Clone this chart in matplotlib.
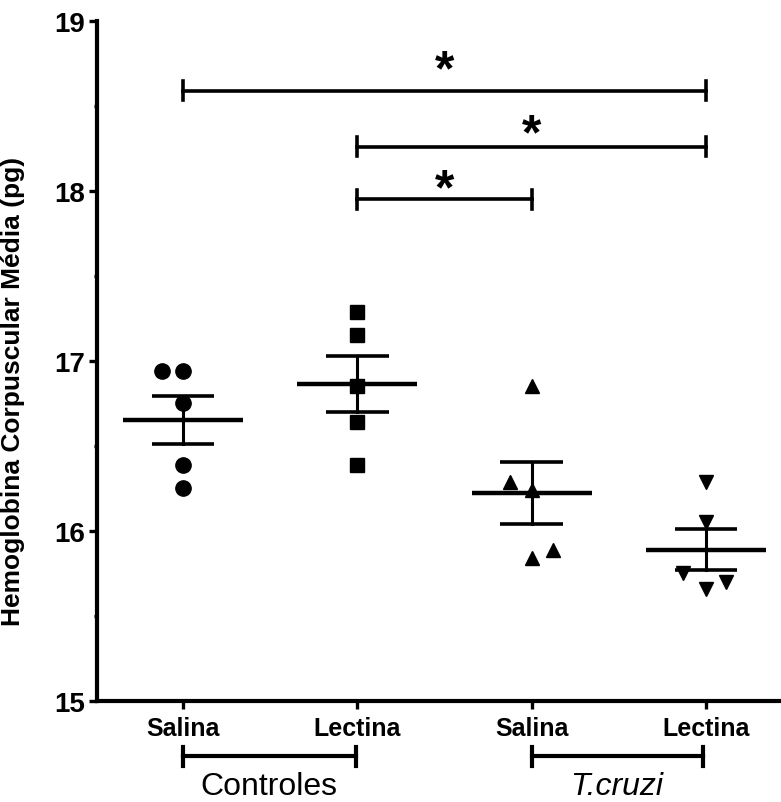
import matplotlib.pyplot as plt
import numpy as np

plt.rcParams["font.family"] = ["Liberation Sans", "DejaVu Sans"]

categories = ["Salina", "Lectina", "Salina", "Lectina"]
groups = ["Controles", "T.cruzi"]
ctrl_salina = [16.94, 16.94, 16.75, 16.39, 16.25]
ctrl_lectina = [17.29, 17.15, 16.85, 16.64, 16.39]
tc_salina = [16.85, 16.29, 16.24, 15.89, 15.84]
tc_lectina = [16.29, 16.05, 15.75, 15.70, 15.66]
series = [ctrl_salina, ctrl_lectina, tc_salina, tc_lectina]
# horizontal spread of overlapping points (scatter layout)
spread = [
    [-0.12, 0.0, 0.0, 0.0, 0.0],
    [0.0, 0.0, 0.0, 0.0, 0.0],
    [0.0, -0.125, 0.0, 0.12, 0.0],
    [0.0, 0.0, -0.13, 0.115, 0.0],
]
markers = ["o", "s", "^", "v"]
# significance comparisons: (from, to, bracket y, star y)
comparisons = [(1, 4, 18.59, 18.80), (2, 4, 18.26, 18.42), (2, 3, 17.95, 18.10)]

fig = plt.figure(figsize=(7.81, 8.03), dpi=100)
ax = fig.add_axes([0.1242, 0.1258, 0.8758, 0.8468])

for i, (vals, offs, m) in enumerate(zip(series, spread, markers)):
    x = i + 1
    vals = np.array(vals)
    ax.plot(x + np.array(offs), vals, linestyle="none", marker=m, color="black",
            markersize={"o": 11, "s": 10, "^": 10, "v": 10}[m], clip_on=False, zorder=3)
    mean = vals.mean()
    sem = vals.std(ddof=1) / np.sqrt(len(vals))
    ax.plot([x - 0.345, x + 0.345], [mean, mean], color="black", lw=3.2, solid_capstyle="butt")
    ax.plot([x, x], [mean - sem, mean + sem], color="black", lw=2.2)
    for y in (mean - sem, mean + sem):
        ax.plot([x - 0.18, x + 0.18], [y, y], color="black", lw=2.6, solid_capstyle="butt")

for a, b, y, ys in comparisons:
    ax.plot([a, b], [y, y], color="black", lw=2.6)
    for xx in (a, b):
        ax.plot([xx, xx], [y - 0.055, y + 0.055], color="black", lw=2.6)
    ax.text((a + b) / 2, ys - 0.17, "*", ha="center", va="baseline",
            fontsize=36, fontweight="bold")

ax.set_xlim(0.507, 4.43)
ax.set_ylim(15, 19)
ax.set_xticks([1, 2, 3, 4])
ax.set_xticklabels(categories, fontsize=18, fontweight="bold")
ax.set_yticks([15, 16, 17, 18, 19])
ax.set_yticks([15.5, 16.5, 17.5, 18.5], minor=True)
ax.set_yticklabels(["15", "16", "17", "18", "19"], fontsize=20, fontweight="bold")
ax.tick_params(axis="both", which="major", width=2.4, length=5.5, direction="out")
ax.tick_params(axis="y", which="major", pad=3)
ax.tick_params(axis="x", which="major", pad=5)
ax.tick_params(axis="y", which="minor", width=2.4, length=2.5, direction="out")
for side in ("top", "right"):
    ax.spines[side].set_visible(False)
for side in ("left", "bottom"):
    ax.spines[side].set_linewidth(3)
ax.set_ylabel("Hemoglobina Corpuscular Média (pg)", fontsize=19, fontweight="bold")
ax.yaxis.set_label_coords(-0.105, 0.456)

# group brackets below the axis
trans = ax.get_xaxis_transform()
for (a, b), name, style in zip([(1, 1.99), (3, 3.98)], groups, ["normal", "italic"]):
    ax.plot([a, b], [-0.081, -0.081], color="black", lw=3, transform=trans, clip_on=False)
    for xx in (a, b):
        ax.plot([xx, xx], [-0.067, -0.095], color="black", lw=3, transform=trans, clip_on=False)
    ax.text((a + b) / 2, -0.125, name, transform=trans, ha="center", va="center",
            fontsize=23, fontstyle=style)

fig.savefig("out.png", dpi=100)
